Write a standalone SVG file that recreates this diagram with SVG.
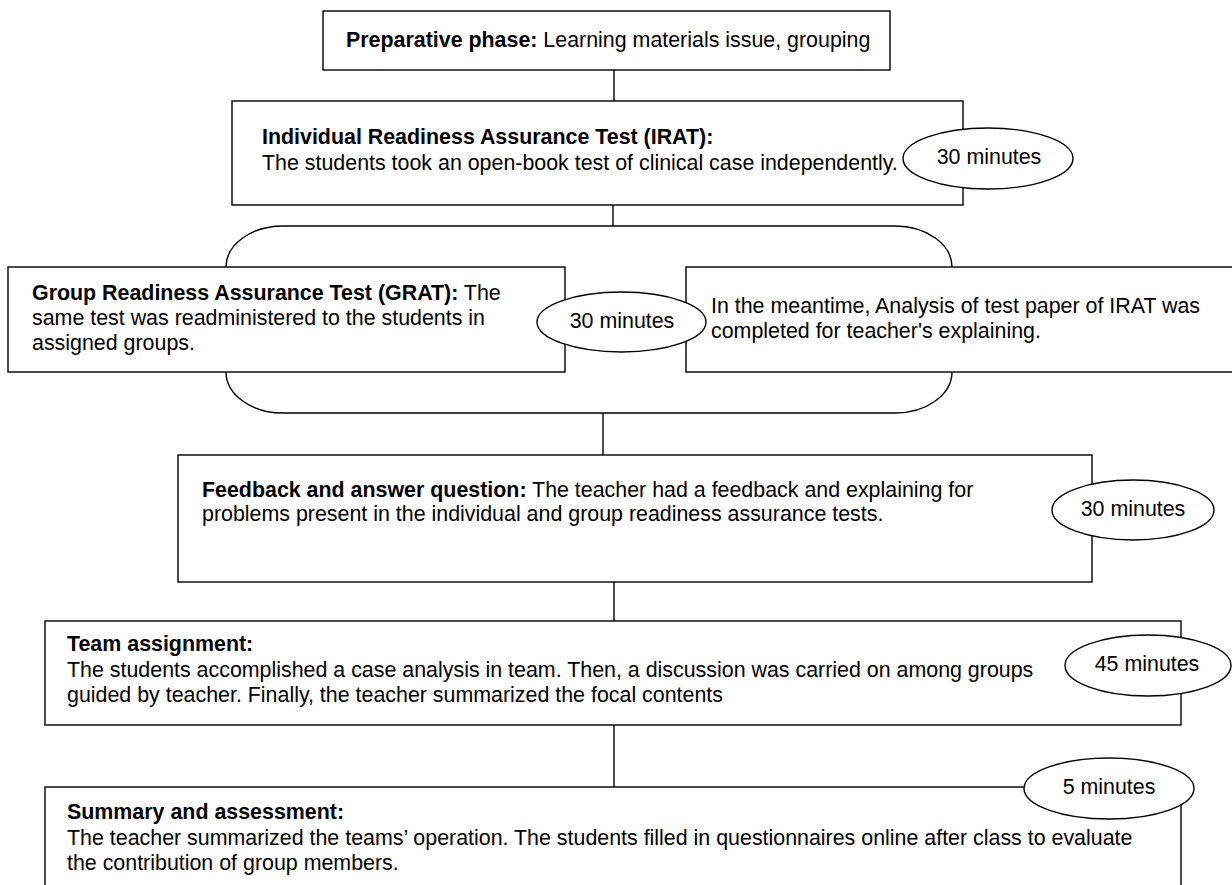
<svg xmlns="http://www.w3.org/2000/svg" width="1232" height="885" viewBox="0 0 1232 885">
<style>
  .box { fill: #ffffff; stroke: #000000; stroke-width: 1.4; }
  .oval { fill: #ffffff; stroke: #000000; stroke-width: 1.4; }
  .bracket { fill: none; stroke: #000000; stroke-width: 1.4; }
  .conn { stroke: #000000; stroke-width: 1.4; fill: none; }
  text { font-family: "Liberation Sans", Arial, sans-serif; font-size: 21.4px; fill: #000000; }
  .b { font-weight: bold; }
  .mid { text-anchor: middle; }
</style>
<rect x="0" y="0" width="1232" height="885" fill="#ffffff"/>
<g id="connectors">
  <line class="conn" x1="614" y1="70" x2="614" y2="101"/>
  <line class="conn" x1="613" y1="205" x2="613" y2="226"/>
  <line class="conn" x1="603" y1="413" x2="603" y2="455"/>
  <line class="conn" x1="614" y1="582" x2="614" y2="621"/>
  <line class="conn" x1="614" y1="725" x2="614" y2="787"/>
</g>
<g id="bracket">
  <rect class="bracket" x="226" y="226" width="726" height="187" rx="57" ry="41"/>
</g>
<g id="preparative">
  <rect class="box" x="323" y="11" width="567" height="59"/>
  <text x="346" y="47"><tspan class="b">Preparative phase:</tspan> Learning materials issue, grouping</text>
</g>
<g id="irat">
  <rect class="box" x="232" y="101" width="731" height="104"/>
  <text x="262" y="144" class="b">Individual Readiness Assurance Test (IRAT):</text>
  <text x="262" y="170">The students took an open-book test of clinical case independently.</text>
</g>
<g id="irat-time">
  <ellipse class="oval" cx="988" cy="158.5" rx="85" ry="30.5"/>
  <text x="989" y="164" class="mid">30 minutes</text>
</g>
<g id="grat">
  <rect class="box" x="8" y="267" width="557" height="105"/>
  <text x="32" y="300"><tspan class="b">Group Readiness Assurance Test (GRAT):</tspan> The</text>
  <text x="32" y="325">same test was readministered to the students in</text>
  <text x="32" y="350">assigned groups.</text>
</g>
<g id="meantime">
  <rect class="box" x="686" y="267" width="560" height="105"/>
  <text x="711" y="313">In the meantime, Analysis of test paper of IRAT was</text>
  <text x="711" y="338">completed for teacher's explaining.</text>
</g>
<g id="grat-time">
  <ellipse class="oval" cx="621.5" cy="322" rx="84.5" ry="30"/>
  <text x="622" y="328" class="mid">30 minutes</text>
</g>
<g id="feedback">
  <rect class="box" x="178" y="455" width="914" height="127"/>
  <text x="202" y="497"><tspan class="b">Feedback and answer question:</tspan> The teacher had a feedback and explaining for</text>
  <text x="202" y="521">problems present in the individual and group readiness assurance tests.</text>
</g>
<g id="feedback-time">
  <ellipse class="oval" cx="1133" cy="510" rx="81" ry="30"/>
  <text x="1133" y="516" class="mid">30 minutes</text>
</g>
<g id="team">
  <rect class="box" x="45" y="621" width="1136" height="104"/>
  <text x="67" y="651" class="b">Team assignment:</text>
  <text x="67" y="677">The students accomplished a case analysis in team. Then, a discussion was carried on among groups</text>
  <text x="67" y="702">guided by teacher. Finally, the teacher summarized the focal contents</text>
</g>
<g id="team-time">
  <ellipse class="oval" cx="1148" cy="665.5" rx="83" ry="30.5"/>
  <text x="1147" y="671" class="mid">45 minutes</text>
</g>
<g id="summary">
  <rect class="box" x="45" y="787" width="1136" height="110"/>
  <text x="67" y="819" class="b">Summary and assessment:</text>
  <text x="67" y="845">The teacher summarized the teams’ operation. The students filled in questionnaires online after class to evaluate</text>
  <text x="67" y="870">the contribution of group members.</text>
</g>
<g id="summary-time">
  <ellipse class="oval" cx="1109" cy="788.5" rx="85" ry="30.5"/>
  <text x="1109" y="794" class="mid">5 minutes</text>
</g>
</svg>
